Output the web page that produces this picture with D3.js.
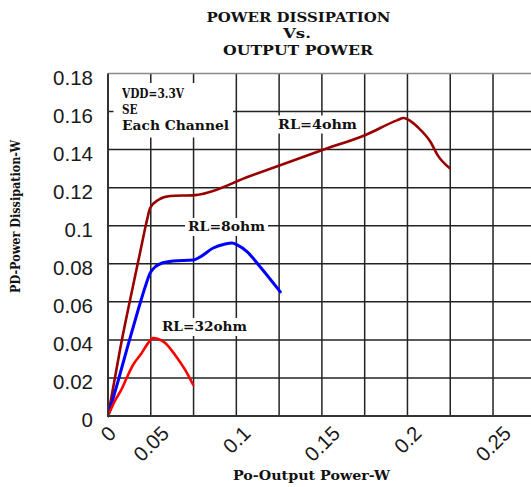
<!DOCTYPE html>
<html>
<head>
<meta charset="utf-8">
<script src="https://cdn.jsdelivr.net/npm/d3@7"></script>
<style>
  html, body { margin: 0; padding: 0; background: #fff; }
  svg { display: block; }
</style>
</head>
<body>
<svg id="chart" width="531" height="487"></svg>
<script>
// Power dissipation per channel vs. output power (VDD = 3.3 V, single-ended)

const xTickValues = [0, 0.05, 0.1, 0.15, 0.2, 0.25];
const xTickLabels = ["0", "0.05", "0.1", "0.15", "0.2", "0.25"];
const yTickValues = [0, 0.02, 0.04, 0.06, 0.08, 0.1, 0.12, 0.14, 0.16, 0.18];
const yTickLabels = ["0", "0.02", "0.04", "0.06", "0.08", "0.1", "0.12", "0.14", "0.16", "0.18"];

const titleLines = ["POWER DISSIPATION", "Vs.", "OUTPUT POWER"];
const xTitle = "Po-Output Power-W";
const yTitle = "PD-Power Dissipation-W";
const noteLines = ["VDD=3.3V", "SE", "Each Channel"];

const seriesNames = ["RL=4ohm", "RL=8ohm", "RL=32ohm"];

// RL = 4 ohm
const po4 = [0, 0.0035, 0.0070, 0.0129, 0.0187, 0.0228, 0.0246, 0.0293, 0.0363, 0.0509,
             0.0831, 0.1253, 0.1505, 0.1692, 0.1727, 0.1768, 0.1809, 0.1885, 0.1926, 0.1996];
const pd4 = [0, 0.0173, 0.0347, 0.0610, 0.0857, 0.1030, 0.1093, 0.1135, 0.1156, 0.1161,
             0.1261, 0.1398, 0.1477, 0.1555, 0.1566, 0.1550, 0.1519, 0.1440, 0.1371, 0.1303];

// RL = 8 ohm
const po8 = [0, 0.0059, 0.0117, 0.0176, 0.0217, 0.0246, 0.0275, 0.0316, 0.0381, 0.0498,
             0.0539, 0.0615, 0.0685, 0.0726, 0.0755, 0.0814, 0.0890, 0.1007];
const pd8 = [0, 0.0184, 0.0373, 0.0557, 0.0678, 0.0751, 0.0783, 0.0804, 0.0815, 0.0820,
             0.0836, 0.0883, 0.0904, 0.0909, 0.0899, 0.0862, 0.0783, 0.0652];

// RL = 32 ohm
const po32 = [0, 0.0040, 0.0080, 0.0109, 0.0146, 0.0197, 0.0234, 0.0263, 0.0293, 0.0334,
              0.0392, 0.0451, 0.0498];
const pd32 = [0, 0.0079, 0.0142, 0.0200, 0.0268, 0.0331, 0.0383, 0.0410, 0.0405, 0.0384,
              0.0321, 0.0242, 0.0163];

const seriesColors = ["#990000", "#0000ff", "#ff0000"];
const gridStep = 0.025;

(function draw() {
  const W = 531;
  const plotLeft = 108, plotTop = 73.5, plotBottom = 416, plotRight = 535.8;

  const svg = d3.select("#chart");

  const x = d3.scaleLinear().domain([0, 0.25]).range([plotLeft, plotRight]);
  const y = d3.scaleLinear().domain([0, 0.18]).range([plotBottom, plotTop]);

  const boldFont = "'DejaVu Serif', 'Liberation Serif', serif";
  const tickFont = "'Liberation Sans', Arial, sans-serif";

  svg.append("defs").append("clipPath").attr("id", "plotClip")
    .append("rect").attr("x", plotLeft).attr("y", plotTop - 2)
    .attr("width", plotRight - plotLeft).attr("height", plotBottom - plotTop + 4);

  // ------------------------------------------------------------ grid
  const grid = svg.append("g").attr("stroke", "#222").attr("stroke-width", 1.5);

  const xGridVals = d3.range(1, 11).map(i => i * gridStep);
  grid.selectAll("line.vx").data(xGridVals).join("line")
    .attr("x1", d => x(d)).attr("x2", d => x(d))
    .attr("y1", plotTop).attr("y2", plotBottom);

  grid.selectAll("line.hy").data(yTickValues.slice(1, -1)).join("line")
    .attr("x1", plotLeft).attr("x2", W)
    .attr("y1", d => y(d)).attr("y2", d => y(d));

  // top edge of the plot area
  svg.append("line")
    .attr("x1", plotLeft).attr("x2", W).attr("y1", y(0.18)).attr("y2", y(0.18))
    .attr("stroke", "#8a8a8a").attr("stroke-width", 1.5);

  // ------------------------------------------------------------ curves
  const line = d3.line()
    .x(d => x(d[0])).y(d => y(d[1]))
    .curve(d3.curveMonotoneX);

  const seriesData = [d3.zip(po4, pd4), d3.zip(po8, pd8), d3.zip(po32, pd32)];
  const seriesWidths = [2.6, 3, 2.6];

  const curves = svg.append("g").attr("clip-path", "url(#plotClip)");
  seriesData.forEach((pts, i) => {
    curves.append("path")
      .datum(pts)
      .attr("d", line)
      .attr("fill", "none")
      .attr("stroke", seriesColors[i])
      .attr("stroke-width", seriesWidths[i])
      .attr("stroke-linejoin", "round")
      .attr("stroke-linecap", "round");
  });

  // ------------------------------------------------------------ axes
  svg.append("line")
    .attr("x1", plotLeft).attr("x2", plotLeft).attr("y1", plotTop).attr("y2", plotBottom + 1)
    .attr("stroke", "#333").attr("stroke-width", 2);
  svg.append("line")
    .attr("x1", plotLeft - 1).attr("x2", W).attr("y1", plotBottom).attr("y2", plotBottom)
    .attr("stroke", "#333").attr("stroke-width", 2);

  // y tick labels
  svg.append("g").selectAll("text").data(yTickValues).join("text")
    .attr("x", 93)
    .attr("y", d => y(d) + 11)
    .attr("text-anchor", "end")
    .attr("font-family", tickFont)
    .attr("font-size", 20.5)
    .attr("fill", "#1a1a1a")
    .text((d, i) => yTickLabels[i]);

  // x tick labels, rotated 45 degrees; each rotated label is centred on the
  // grid line one minor step before its value, the origin label on the origin
  const xLabelG = svg.append("g");
  xTickValues.forEach((v, i) => {
    const cx = v === 0 ? x(0) : x(v - gridStep);
    const t = xLabelG.append("text")
      .attr("text-anchor", "middle")
      .attr("dominant-baseline", "central")
      .attr("font-family", tickFont)
      .attr("font-size", 20.5)
      .attr("fill", "#1a1a1a")
      .text(xTickLabels[i]);
    const w = t.node().getComputedTextLength();
    const cy = 424 + (w + 15) * Math.SQRT1_2 / 2;
    t.attr("transform", `translate(${cx},${cy}) rotate(-45)`);
  });

  // ------------------------------------------------------------ texts
  function boldText(g, str, xPos, yPos, size, len, anchor) {
    return g.append("text")
      .attr("x", xPos).attr("y", yPos)
      .attr("text-anchor", anchor || "start")
      .attr("font-family", boldFont)
      .attr("font-weight", "bold")
      .attr("font-size", size)
      .attr("fill", "#111")
      .attr("textLength", len)
      .attr("lengthAdjust", "spacingAndGlyphs")
      .text(str);
  }

  // chart title
  const titleG = svg.append("g");
  boldText(titleG, titleLines[0], 298.5, 22, 12, 184, "middle");
  boldText(titleG, titleLines[1], 297, 38, 12, 28, "middle");
  boldText(titleG, titleLines[2], 298, 55, 12, 150, "middle");

  // axis titles
  boldText(svg, xTitle, 311.5, 480, 13, 157, "middle");
  boldText(svg.append("g").attr("transform", "translate(20,216.5) rotate(-90)"),
    yTitle, 0, 0, 12.5, 153, "middle");

  // condition note in the top-left corner
  svg.append("rect")
    .attr("x", 113.5).attr("y", 83).attr("width", 119.5).attr("height", 54.5)
    .attr("fill", "#fff");
  const noteG = svg.append("g");
  boldText(noteG, noteLines[0], 122, 98, 12.5, 62);
  boldText(noteG, noteLines[1], 122, 113.5, 12.5, 15.5);
  boldText(noteG, noteLines[2], 122, 129.5, 12.5, 107);

  // series labels on white backing
  const seriesLabelPos = [
    { x: 278, y: 128.5, len: 79 },
    { x: 188, y: 231, len: 77 },
    { x: 162, y: 331, len: 85 }
  ];
  seriesNames.forEach((name, i) => {
    const p = seriesLabelPos[i];
    const g = svg.append("g");
    g.append("rect")
      .attr("x", p.x - 3).attr("y", p.y - 13)
      .attr("width", p.len + 6).attr("height", 18)
      .attr("fill", "#fff");
    boldText(g, name, p.x, p.y, 12.5, p.len);
  });
})();
</script>
</body>
</html>
